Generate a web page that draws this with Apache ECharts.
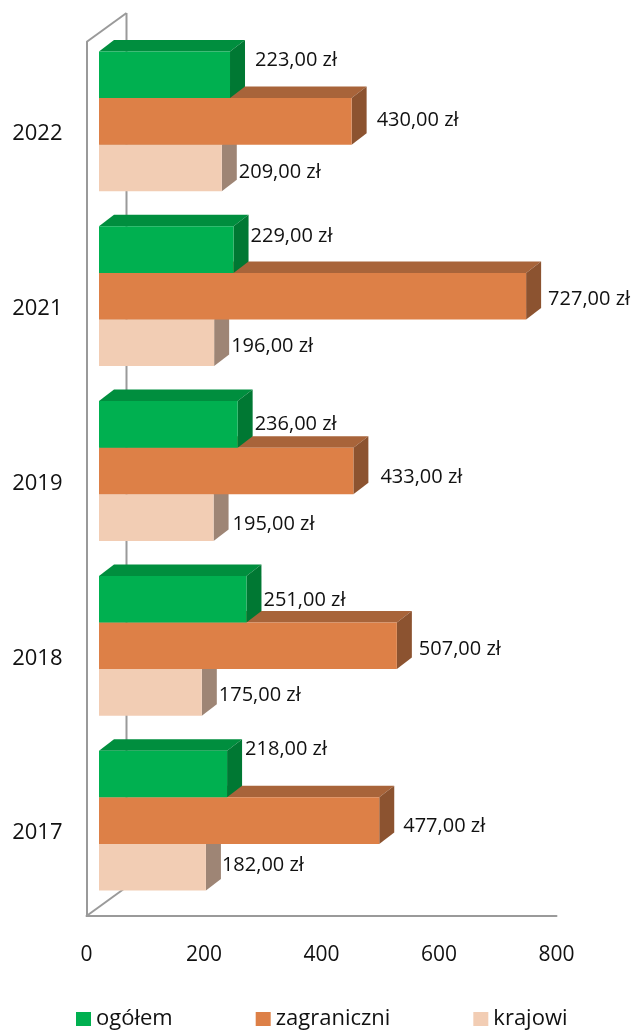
<!DOCTYPE html>
<html>
<head>
<meta charset="utf-8">
<title>ogółem / zagraniczni / krajowi</title>
<script src="https://cdn.jsdelivr.net/npm/echarts@6/dist/echarts.min.js"></script>
<style>
  html, body { margin: 0; padding: 0; background: #ffffff; }
  #chart { width: 636px; height: 1030px; }
</style>
</head>
<body>
<div id="chart"></div>
<script>
// ---- data ----
const years = ['2022', '2021', '2019', '2018', '2017'];
const seriesNames = ['ogółem', 'zagraniczni', 'krajowi'];
const ogolem = [223, 229, 236, 251, 218];
const zagraniczni = [430, 727, 433, 507, 477];
const krajowi = [209, 196, 195, 175, 182];
const valueTicks = [0, 200, 400, 600, 800];

// ---- look ----
const FONT = '"Open Sans", "DejaVu Sans", sans-serif';
const TEXT = '#111111';
const FRAME = '#9a9a9a';
const PLANE = [12.5, -8];    // bars' front plane, shifted back from the floor edge
const DEPTH = [15, -11.5];   // depth of each bar
const WALL = [40, -29];      // depth of the walls
const faces = [
  { front: '#00B050', top: '#008E3E', side: '#007833' },
  { front: '#DD8047', top: '#A8643A', side: '#8C5330' },
  { front: '#F2CDB4', top: '#C9AE9E', side: '#9E8575' }
];
// fine placement of the value labels (px), per series and category
const labelDx = [[10, 2, 2, 2, 3], [10, 7, 12, 7, 9], [2, 2, 4, 2, 1]];
const labelDy = [[-14, -13, 0, 1, -25], [-1, 3, 6, 3, 6], [4, 3, 7, 3, -2]];

const formatZl = v => v.toFixed(2).replace('.', ',') + ' zł';

function barSeries(k, values) {
  return {
    type: 'custom',
    name: seriesNames[k],
    coordinateSystem: 'cartesian2d',
    data: values.map((v, i) => [v, i]),
    encode: { x: 0, y: 1 },
    itemStyle: { color: faces[k].front },
    renderItem(params, api) {
      const v = api.value(0);
      const ci = api.value(1);
      const i = params.dataIndex;
      const band = api.size([0, 1])[1];
      const c0 = api.coord([0, ci]);
      const c1 = api.coord([v, ci]);
      const barH = band * 0.8 / 3;
      const top = c0[1] - band * 0.4 + k * barH + PLANE[1];
      const bottom = top + barH;
      const x0 = c0[0] + PLANE[0];
      const x1 = c1[0] + PLANE[0];
      const dx = DEPTH[0], dy = DEPTH[1];
      const f = faces[k];
      const zBase = (3 - k) * 4;
      return {
        type: 'group',
        children: [
          {
            type: 'polygon', z2: zBase,
            shape: { points: [[x0, top], [x0 + dx, top + dy], [x1 + dx, top + dy], [x1, top]] },
            style: { fill: f.top }
          },
          {
            type: 'polygon', z2: zBase + 1,
            shape: { points: [[x1, top], [x1 + dx, top + dy], [x1 + dx, bottom + dy], [x1, bottom]] },
            style: { fill: f.side }
          },
          {
            type: 'rect', z2: zBase + 2,
            shape: { x: x0, y: top, width: x1 - x0, height: barH },
            style: { fill: f.front }
          },
          {
            type: 'text', z2: 100,
            style: {
              text: formatZl(v),
              x: x1 + dx + labelDx[k][i],
              y: (top + bottom) / 2 + labelDy[k][i],
              align: 'left',
              verticalAlign: 'middle',
              fill: TEXT,
              fontSize: 20,
              fontFamily: FONT
            }
          }
        ]
      };
    }
  };
}

// back wall edges drawn from the grid's own rectangle
const frameSeries = {
  type: 'custom',
  name: 'frame',
  coordinateSystem: 'cartesian2d',
  data: [[0, 0]],
  encode: { x: 0, y: 1 },
  silent: true,
  renderItem(params, api) {
    const r = params.coordSys;
    const xl = api.coord([0, 0])[0];
    const yt = r.y, yb = r.y + r.height;
    const line = (a, b) => ({
      type: 'line', z2: 0,
      shape: { x1: a[0], y1: a[1], x2: b[0], y2: b[1] },
      style: { stroke: FRAME, lineWidth: 2 }
    });
    return {
      type: 'group',
      children: [
        line([xl, yt], [xl + WALL[0], yt + WALL[1]]),
        line([xl + WALL[0], yt + WALL[1]], [xl + WALL[0], yb + WALL[1]]),
        line([xl, yb], [xl + WALL[0], yb + WALL[1]])
      ]
    };
  }
};

const chart = echarts.init(document.getElementById('chart'), null, { renderer: 'canvas' });
chart.setOption({
  animation: false,
  backgroundColor: '#ffffff',
  textStyle: { fontFamily: FONT },
  grid: { left: 86.5, top: 42, width: 470, height: 874, containLabel: false },
  xAxis: {
    type: 'value',
    min: valueTicks[0],
    max: valueTicks[valueTicks.length - 1],
    interval: valueTicks[1] - valueTicks[0],
    axisLine: { show: true, onZero: false, lineStyle: { color: FRAME, width: 2 } },
    axisTick: { show: false },
    splitLine: { show: false },
    axisLabel: { color: TEXT, fontSize: 21, fontFamily: FONT, margin: 29 }
  },
  yAxis: {
    type: 'category',
    data: years,
    inverse: true,
    axisLine: { show: true, lineStyle: { color: FRAME, width: 2 } },
    axisTick: { show: false },
    splitLine: { show: false },
    axisLabel: {
      margin: 24,
      formatter: y => '{y|' + y + '}',
      rich: { y: { color: TEXT, fontSize: 22, fontFamily: FONT, padding: [9, 0, 0, 0] } }
    }
  },
  legend: {
    data: seriesNames,
    left: 76,
    top: 1008,
    padding: 0,
    icon: 'rect',
    itemWidth: 15,
    itemHeight: 14,
    itemGap: 83,
    textStyle: { color: TEXT, fontSize: 22, fontFamily: FONT }
  },
  series: [
    frameSeries,
    barSeries(0, ogolem),
    barSeries(1, zagraniczni),
    barSeries(2, krajowi)
  ]
});
</script>
</body>
</html>
